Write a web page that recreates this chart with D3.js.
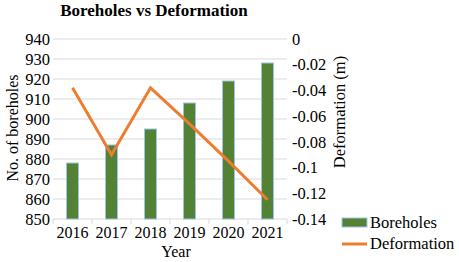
<!DOCTYPE html>
<html><head><meta charset="utf-8">
<script src="https://cdn.jsdelivr.net/npm/d3@7"></script>
<style>body{margin:0;background:#fff;} svg{display:block;} text{font-family:'Liberation Serif','Times New Roman','DejaVu Serif',serif;}</style>
</head><body>
<script>
const years = ["2016","2017","2018","2019","2020","2021"];
const boreholes = [878, 887, 895, 908, 919, 928];
const deformation = [-0.038, -0.090, -0.038, -0.066, -0.095, -0.125];
const leftTicks = [850,860,870,880,890,900,910,920,930,940];
const rightTicks = [0,-0.02,-0.04,-0.06,-0.08,-0.1,-0.12,-0.14];

const W=459,H=262;
const svg=d3.select("body").append("svg").attr("width",W).attr("height",H)
  .attr("font-family","'Liberation Serif','Times New Roman','DejaVu Serif',serif");
const x=d3.scaleBand().domain(years).range([53,287]).padding(0);
const yL=d3.scaleLinear().domain([850,940]).range([219,39]);
const yR=d3.scaleLinear().domain([-0.14,0]).range([219,39]);

// grid
svg.append("g").selectAll("line").data(leftTicks.slice(1)).join("line")
  .attr("x1",53).attr("x2",287).attr("y1",d=>yL(d)).attr("y2",d=>yL(d))
  .attr("stroke","#d9d9d9").attr("stroke-width",1);

// bottom axis
const xa=svg.append("g").attr("transform","translate(0,219)");
xa.append("line").attr("x1",53).attr("x2",287).attr("y1",0).attr("y2",0).attr("stroke","#d9d9d9");
const bounds=years.map(d=>x(d)).concat([287]);
xa.selectAll("line.t").data(bounds).join("line").attr("class","t")
  .attr("x1",d=>d).attr("x2",d=>d).attr("y1",0).attr("y2",5).attr("stroke","#d9d9d9");
xa.selectAll("text").data(years).join("text")
  .attr("x",d=>x(d)+x.bandwidth()/2).attr("y",19).attr("text-anchor","middle")
  .attr("font-size",16).attr("fill","#000").text(d=>d);

// bars
const bw=12;
svg.append("g").selectAll("rect").data(years).join("rect")
  .attr("x",(d)=>x(d)+x.bandwidth()/2-bw/2)
  .attr("y",(d,i)=>yL(boreholes[i]))
  .attr("width",bw).attr("height",(d,i)=>219-yL(boreholes[i]))
  .attr("fill","#548235").attr("stroke","#9dc3e6").attr("stroke-width",1);

// line
const line=d3.line().x((d,i)=>x(years[i])+x.bandwidth()/2).y(d=>yR(d));
svg.append("path").datum(deformation).attr("d",line).attr("fill","none")
  .attr("stroke","#ed7d31").attr("stroke-width",3).attr("stroke-linejoin","miter");

// left ticks
svg.append("g").selectAll("text").data(leftTicks).join("text")
  .attr("x",50).attr("y",d=>yL(d)).attr("dy","0.35em").attr("text-anchor","end")
  .attr("font-size",16.5).text(d=>d);
// right ticks
svg.append("g").selectAll("text").data(rightTicks).join("text")
  .attr("x",292).attr("y",d=>yR(d)).attr("dy","0.35em").attr("text-anchor","start")
  .attr("font-size",16.5).text(d=>d===0?"0":String(d));

// titles
svg.append("text").attr("x",154).attr("y",16).attr("text-anchor","middle")
  .attr("font-size",17).attr("font-weight","bold").text("Boreholes vs Deformation");
svg.append("text").attr("x",176).attr("y",257).attr("text-anchor","middle")
  .attr("font-size",16).text("Year");
svg.append("text").attr("transform","translate(18,128) rotate(-90)").attr("text-anchor","middle")
  .attr("font-size",16).text("No. of boreholes");
svg.append("text").attr("transform","translate(345,112) rotate(-90)").attr("text-anchor","middle")
  .attr("font-size",16.5).text("Deformation (m)");

// legend
const lg=svg.append("g");
lg.append("rect").attr("x",342).attr("y",218).attr("width",25).attr("height",9)
  .attr("fill","#548235").attr("stroke","#9dc3e6").attr("stroke-width",1);
lg.append("text").attr("x",370).attr("y",228).attr("font-size",16.5).text("Boreholes");
lg.append("line").attr("x1",342).attr("x2",367).attr("y1",244).attr("y2",244)
  .attr("stroke","#ed7d31").attr("stroke-width",3);
lg.append("text").attr("x",370).attr("y",249).attr("font-size",16.5).text("Deformation");
</script>
</body></html>
